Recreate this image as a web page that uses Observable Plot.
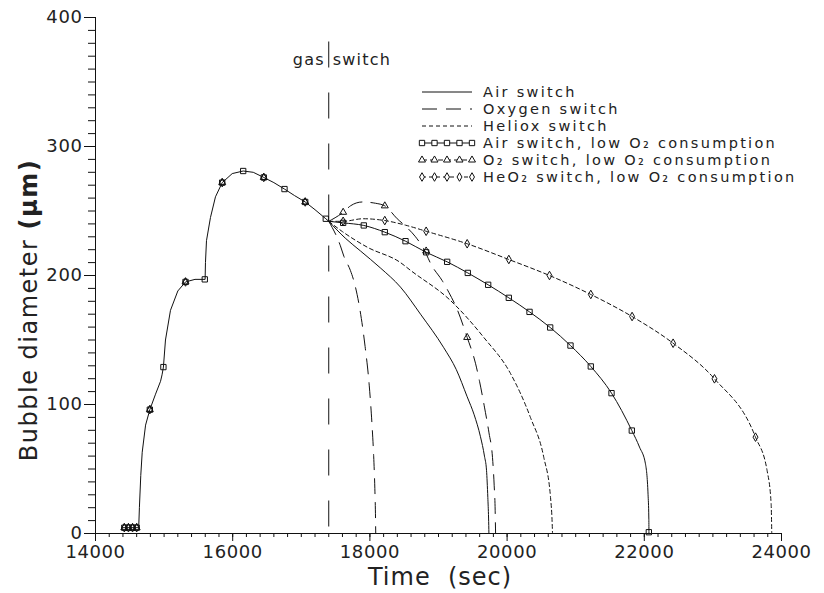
<!DOCTYPE html>
<html><head><meta charset="utf-8">
<script src="https://cdn.jsdelivr.net/npm/d3@7"></script>
<script src="https://cdn.jsdelivr.net/npm/@observablehq/plot@0.6"></script>
<style>
html,body{margin:0;padding:0;background:#fff;}
#chart{position:relative;width:824px;height:593px;}
</style></head><body><div id="chart"></div>
<script>
// ---------- data (time in sec, bubble diameter in µm) ----------
const switchTime = 17400;

// common history before the gas switch
const baseT = [14390, 14630, 14640, 14660, 14681, 14730, 14792, 14875, 14948, 14970, 14990, 15020, 15093, 15200, 15312, 15450, 15598, 15603, 15618, 15676, 15749, 15847, 15993, 16153, 16300, 16453, 16600, 16755, 16900, 17057, 17200, 17357, 17400];
const baseD = [4.5, 4.5, 20, 45, 63, 84, 96, 108, 118, 123, 129, 150, 173, 188, 195, 197, 197, 210, 227, 245, 261, 272, 279, 281, 280, 276, 272, 267, 262, 257, 251, 244, 242];

// Air switch
const airT = [17400, 17640, 17863, 18150, 18446, 18738, 19077, 19260, 19418, 19520, 19612, 19670, 19700, 19719, 19730, 19735];
const airD = [242, 229, 219, 206, 191, 170, 144, 127, 106, 92, 75, 60, 49, 28, 12, 0];

// Oxygen switch
const oxyT = [17400, 17570, 17620, 17715, 17765, 17850, 17930, 17990, 18030, 18055, 18072, 18082, 18085];
const oxyD = [242, 223, 215, 204, 196, 175, 145, 115, 85, 60, 35, 12, 0];

// Heliox switch
const helT = [17400, 17600, 17960, 18446, 18592, 19175, 19660, 20050, 20340, 20535, 20633, 20657, 20662];
const helD = [242, 234, 222, 210, 204, 180.6, 152, 124, 90, 59, 28, 8, 0];

// Air switch, low O2 consumption
const airLowT = [17400, 17610, 17911, 18217, 18519, 18820, 19126, 19427, 19724, 20025, 20327, 20628, 20924, 21220, 21522, 21818, 21930, 22017, 22055, 22066, 22068];
const airLowD = [242, 240.8, 238.8, 233.6, 226.6, 218, 210.6, 202, 192.8, 182.7, 171.8, 159.7, 145.7, 129.5, 108.8, 79.8, 67, 54, 30, 12, 0];
const airLowMarkT = [14420, 14480, 14540, 14600, 14792, 14990, 15312, 15593, 15847, 16153, 16453, 16755, 17057, 17357, 17610, 17911, 18217, 18519, 18820, 19126, 19427, 19724, 20025, 20327, 20628, 20924, 21220, 21522, 21818, 22066];
const airLowMarkD = [4.5, 4.5, 4.5, 4.5, 96, 129, 195, 197, 272, 281, 276, 267, 257, 244, 240.8, 238.8, 233.6, 226.6, 218, 210.6, 202, 192.8, 182.7, 171.8, 159.7, 145.7, 129.5, 108.8, 79.8, 1];

// O2 switch, low O2 consumption
const oxyLowT = [17400, 17610, 17717, 17888, 18082, 18217, 18398, 18544, 18665, 18781, 18898, 19054, 19150, 19270, 19418, 19539, 19598, 19670, 19736, 19787, 19812, 19826, 19832];
const oxyLowD = [242, 249, 254, 257, 256, 254, 244, 237, 230, 221, 208, 196, 187, 174, 152, 132, 118, 98, 78, 59, 37, 18, 0];
const oxyLowMarkT = [14420, 14480, 14540, 14600, 14792, 15312, 15847, 16453, 17057, 17610, 18217, 18820, 19418];
const oxyLowMarkD = [4.5, 4.5, 4.5, 4.5, 96, 195, 272, 276, 257, 249, 254, 219, 152];

// HeO2 switch, low O2 consumption
const helLowT = [17400, 17610, 17900, 18217, 18520, 18820, 19418, 20025, 20618, 21220, 21822, 22420, 23023, 23621, 23790, 23849, 23858];
const helLowD = [242, 242, 244, 242.6, 239, 234.3, 224.6, 212.4, 200, 185.3, 168.2, 147.5, 119.9, 74.7, 48.8, 23, 0];
const helLowMarkT = [14420, 14480, 14540, 14600, 14792, 15312, 15847, 16453, 17057, 17610, 18217, 18820, 19418, 20025, 20618, 21220, 21822, 22420, 23023, 23621];
const helLowMarkD = [4.5, 4.5, 4.5, 4.5, 96, 195, 272, 276, 257, 242, 242.6, 234.3, 224.6, 212.4, 200, 185.3, 168.2, 147.5, 119.9, 74.7];

const xTicks = [14000, 16000, 18000, 20000, 22000, 24000];
const yTicks = [0, 100, 200, 300, 400];

const legendLabels = ["Air switch", "Oxygen switch", "Heliox switch",
  "Air switch, low O\u2082 consumption", "O\u2082 switch, low O\u2082 consumption", "HeO\u2082 switch, low O\u2082 consumption"];

// ---------- drawing ----------
const zipTD = (T, D) => T.map((t, i) => ({t, d: D[i]}));
const INK = "#111";
const LONG = "15,9", SHORT = "4,3";
const FONT = "DejaVu Sans, Liberation Sans, sans-serif";

const plot = Plot.plot({
  width: 824, height: 593,
  marginLeft: 95, marginRight: 43, marginTop: 17, marginBottom: 60,
  x: {domain: [14000, 24000]},
  y: {domain: [0, 400]},
  style: {fontFamily: FONT, background: "white", color: "#222"},
  marks: [
    Plot.axisX({ticks: d3.range(14000, 24001, 200), tickSize: 4, text: null, label: null, stroke: INK}),
    Plot.axisX({ticks: xTicks, tickSize: 8, tickPadding: 4, tickFormat: d => String(d), fontSize: 18, label: null, stroke: INK}),
    Plot.axisY({ticks: d3.range(0, 401, 10), tickSize: 7, text: null, label: null, stroke: INK}),
    Plot.axisY({ticks: yTicks, tickSize: 11, tickPadding: 2, tickFormat: d => String(d), fontSize: 18, label: null, stroke: INK}),
    Plot.ruleX([14000], {stroke: INK}),
    Plot.ruleY([0], {stroke: INK}),
    // gas switch marker
    Plot.ruleX([switchTime], {y1: 381, y2: 0, stroke: INK, strokeDasharray: "26,25"}),
    Plot.text(["gas"], {x: switchTime, y: 367.4, text: d => d, textAnchor: "end", dx: -4, fontSize: 16, fill: "#222"}),
    Plot.text(["switch"], {x: switchTime, y: 367.4, text: d => d, textAnchor: "start", dx: 4, fontSize: 16, fill: "#222"}),
    // curves
    Plot.line(zipTD(baseT, baseD), {x: "t", y: "d", stroke: INK, strokeWidth: 1}),
    Plot.line(zipTD(airT, airD), {x: "t", y: "d", stroke: INK, strokeWidth: 1, curve: "monotone-x"}),
    Plot.line(zipTD(oxyT, oxyD), {x: "t", y: "d", stroke: INK, strokeWidth: 1, curve: "monotone-x", strokeDasharray: LONG}),
    Plot.line(zipTD(helT, helD), {x: "t", y: "d", stroke: INK, strokeWidth: 1, curve: "monotone-x", strokeDasharray: SHORT}),
    Plot.line(zipTD(airLowT, airLowD), {x: "t", y: "d", stroke: INK, strokeWidth: 1, curve: "monotone-x"}),
    Plot.line(zipTD(oxyLowT, oxyLowD), {x: "t", y: "d", stroke: INK, strokeWidth: 1, curve: "monotone-x", strokeDasharray: LONG}),
    Plot.line(zipTD(helLowT, helLowD), {x: "t", y: "d", stroke: INK, strokeWidth: 1, curve: "monotone-x", strokeDasharray: SHORT}),
    Plot.dot(zipTD(airLowMarkT, airLowMarkD), {x: "t", y: "d", symbol: "square", r: 3, stroke: INK, fill: "none", strokeWidth: 1}),
    Plot.dot(zipTD(oxyLowMarkT, oxyLowMarkD), {x: "t", y: "d", symbol: "triangle", r: 2.6, stroke: INK, fill: "none", strokeWidth: 1}),
    Plot.dot(zipTD(helLowMarkT, helLowMarkD), {x: "t", y: "d", symbol: "diamond", r: 2.6, stroke: INK, fill: "none", strokeWidth: 1})
  ]
});

const svg = d3.select(plot);
svg.selectAll("[aria-label='x-axis tick label'] text, [aria-label='y-axis tick label'] text").attr("letter-spacing", "0.6px");
svg.selectAll("text").filter(function(){ return this.textContent === "gas" || this.textContent === "switch"; }).attr("letter-spacing", "1.2px");

// axis titles
svg.append("text")
  .attr("x", 440).attr("y", 585)
  .attr("text-anchor", "middle")
  .attr("font-family", FONT).attr("font-size", 24).attr("letter-spacing", "1px")
  .attr("fill", "#222").style("white-space", "pre")
  .text("Time  (sec)");
const yt = svg.append("text")
  .attr("transform", "translate(37,310) rotate(-90)")
  .attr("text-anchor", "middle")
  .attr("font-family", FONT).attr("font-size", 24).attr("letter-spacing", "1.5px")
  .attr("fill", "#222").style("white-space", "pre");
yt.append("tspan").text("Bubble diameter ");
yt.append("tspan").attr("font-weight", "bold").text("(\u00b5m)");

// legend
const legendStyles = [
  {dash: null, sym: null}, {dash: LONG, sym: null}, {dash: SHORT, sym: null},
  {dash: null, sym: d3.symbolSquare, size: Math.PI * 9},
  {dash: "5,3", sym: d3.symbolTriangle, size: Math.PI * 2.6 * 2.6},
  {dash: SHORT, sym: d3.symbolDiamond, size: Math.PI * 2.6 * 2.6}
];
const lg = svg.append("g").attr("aria-label", "legend").attr("text-anchor", "start");
legendLabels.forEach((lab, i) => {
  const y = 92 + i * 17;
  const st = legendStyles[i];
  lg.append("line").attr("x1", 422).attr("x2", 472).attr("y1", y).attr("y2", y)
    .attr("stroke", INK).attr("stroke-width", 1)
    .attr("stroke-dasharray", st.dash);
  if (st.sym) {
    for (let k = 0; k < 5; k++) {
      lg.append("path").attr("d", d3.symbol(st.sym, st.size)())
        .attr("transform", `translate(${422 + k * 12.5},${y})`)
        .attr("fill", "white").attr("stroke", INK).attr("stroke-width", 1);
    }
  }
  lg.append("text").attr("x", 483).attr("y", y).attr("dy", "0.35em")
    .attr("text-anchor", "start")
    .attr("font-family", FONT).attr("font-size", 14.5).attr("letter-spacing", "2.3px")
    .attr("fill", "#222").text(lab);
});

document.getElementById("chart").appendChild(plot);
</script>
</body></html>
